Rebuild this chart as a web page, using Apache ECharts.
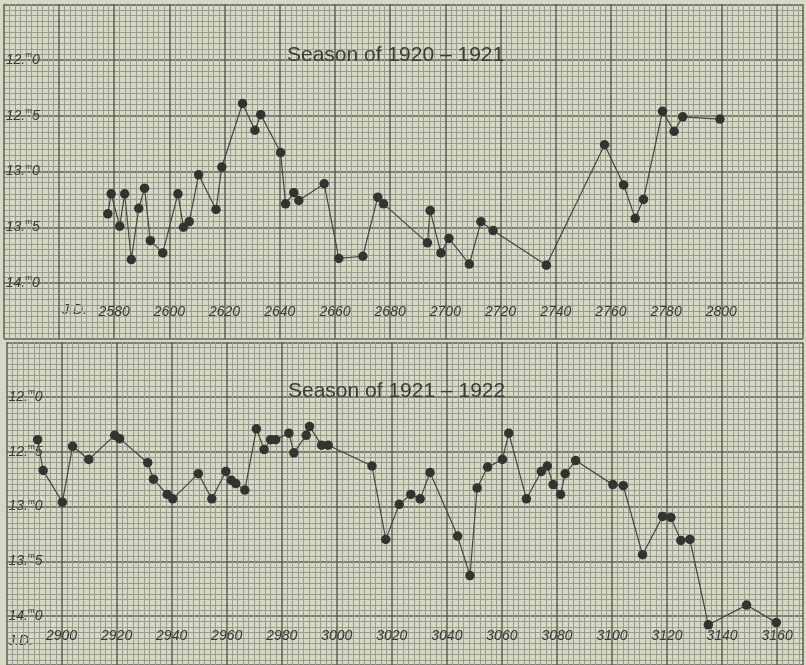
<!DOCTYPE html>
<html>
<head>
<meta charset="utf-8">
<script src="https://cdn.jsdelivr.net/npm/echarts@6/dist/echarts.min.js"></script>
<style>
  html, body { margin: 0; padding: 0; background: #d6dac5; }
  #chart { width: 806px; height: 665px; }
</style>
</head>
<body>
<div id="chart"></div>
<script>
// season 1920-1921 (J.D. 2422xxx, magnitudes)
const jd1 = [2577.7, 2578.9, 2582.0, 2583.8, 2586.2, 2588.9, 2591.0, 2593.1, 2597.6, 2603.1,
  2605.1, 2607.2, 2610.6, 2616.9, 2619.0, 2626.5, 2631.0, 2633.1, 2640.3, 2642.1,
  2645.1, 2646.9, 2656.1, 2661.4, 2670.1, 2675.5, 2677.6, 2693.5, 2694.5, 2698.4,
  2701.3, 2708.7, 2712.9, 2717.3, 2736.6, 2757.7, 2764.6, 2768.8, 2771.8, 2778.7,
  2782.9, 2786.0, 2799.5]
const mag1 = [13.38, 13.20, 13.49, 13.20, 13.79, 13.33, 13.15, 13.62, 13.73, 13.20,
  13.50, 13.45, 13.03, 13.34, 12.96, 12.39, 12.63, 12.49, 12.83, 13.29,
  13.19, 13.26, 13.11, 13.78, 13.76, 13.23, 13.29, 13.64, 13.35, 13.73,
  13.60, 13.83, 13.45, 13.53, 13.84, 12.76, 13.12, 13.42, 13.25, 12.46,
  12.64, 12.51, 12.53]
// season 1921-1922
const jd2 = [2891.3, 2893.3, 2900.3, 2904.0, 2909.9, 2919.3, 2921.1, 2931.3, 2933.4, 2938.4,
  2940.4, 2949.7, 2954.6, 2959.7, 2961.7, 2963.3, 2966.6, 2970.8, 2973.6, 2976.0,
  2977.8, 2982.6, 2984.4, 2988.9, 2990.1, 2994.5, 2996.9, 3012.8, 3017.8, 3022.7,
  3026.9, 3030.3, 3033.9, 3043.9, 3048.4, 3051.0, 3054.8, 3060.2, 3062.5, 3068.9,
  3074.3, 3076.5, 3078.6, 3081.3, 3083.0, 3086.8, 3100.3, 3104.1, 3111.1, 3118.4,
  3121.4, 3125.0, 3128.3, 3135.0, 3148.9, 3159.7]
const mag2 = [12.39, 12.67, 12.96, 12.45, 12.57, 12.35, 12.38, 12.60, 12.75, 12.89,
  12.93, 12.70, 12.93, 12.68, 12.76, 12.79, 12.85, 12.29, 12.48, 12.39,
  12.39, 12.33, 12.51, 12.35, 12.27, 12.44, 12.44, 12.63, 13.30, 12.98,
  12.89, 12.93, 12.69, 13.27, 13.63, 12.83, 12.64, 12.57, 12.33, 12.93,
  12.68, 12.63, 12.80, 12.89, 12.70, 12.58, 12.80, 12.81, 13.44, 13.09,
  13.10, 13.31, 13.30, 14.08, 13.90, 14.06]

const xTicks1 = [2580, 2600, 2620, 2640, 2660, 2680, 2700, 2720, 2740, 2760, 2780, 2800]
const xTicks2 = [2900, 2920, 2940, 2960, 2980, 3000, 3020, 3040, 3060, 3080, 3100, 3120, 3140, 3160]
const yTicks = [12.0, 12.5, 13.0, 13.5, 14.0]
const titles = ['Season of 1920 \u2013 1921', 'Season of 1921 \u2013 1922']

const hand = "'Liberation Sans', 'DejaVu Sans', sans-serif"
const ink = '#393936'
const major = '#5f615a'
const minor = '#989b8d'

let myChart = echarts.init(document.getElementById('chart'))

let xAx = (min, max, ticks, idx) => ({
    type: 'value', gridIndex: idx, min: min, max: max, interval: 20,
    axisLine: { show: false },
    axisTick: { show: false },
    minorTick: { show: false, splitNumber: 10 },
    minorSplitLine: { show: true, lineStyle: { color: minor, width: 1 } },
    splitLine: { show: true, lineStyle: { color: major, width: 1.5 } },
    axisLabel: {
        inside: true, margin: idx == 0 ? 20 : 22,
        fontFamily: hand, fontSize: 14, fontStyle: 'italic', color: ink,
        formatter: v => ticks.indexOf(v) >= 0 ? String(v) : ''
    }
})
let yAx = (idx, max) => ({
    type: 'value', gridIndex: idx, min: 11.5, max: max, interval: 0.5, inverse: true,
    axisLine: { show: false },
    axisTick: { show: false },
    minorTick: { show: false, splitNumber: 10 },
    minorSplitLine: { show: true, lineStyle: { color: minor, width: 1 } },
    splitLine: { show: true, lineStyle: { color: major, width: 1.5 } },
    axisLabel: {
        inside: true, margin: 2,
        formatter: v => {
            if (yTicks.indexOf(v) < 0) return ''
            let s = v.toFixed(1).split('.')
            return '{n|' + s[0] + '.}{m|m}{n|' + s[1] + '}'
        },
        rich: {
            n: { fontFamily: hand, fontSize: 14, fontStyle: 'italic', color: ink },
            m: { fontFamily: hand, fontSize: 8, color: ink, padding: [0, 0, 10, 0] }
        }
    }
})
let ser = (jd, mag, idx) => ({
    type: 'line', xAxisIndex: idx, yAxisIndex: idx,
    data: jd.map((d, i) => [d, mag[i]]),
    symbol: 'circle', symbolSize: 9.5, showSymbol: true,
    itemStyle: { color: '#333331' },
    lineStyle: { color: '#454541', width: 1.2 },
    z: 5
})

let option = {
    backgroundColor: '#d6dac5',
    animation: false,
    title: [
        { text: titles[0], left: 282, top: 40,
          textStyle: { fontFamily: hand, fontSize: 21, fontWeight: 'normal', color: '#3c3c38' } },
        { text: titles[1], left: 283, top: 376,
          textStyle: { fontFamily: hand, fontSize: 21, fontWeight: 'normal', color: '#3c3c38' } }
    ],
    grid: [
        { left: 3.8, top: 4.25, width: 802.2, height: 334.5 },
        { left: 6.5, top: 342.25, width: 799.5, height: 322.75 }
    ],
    xAxis: [xAx(2540, 2829.6, xTicks1, 0), xAx(2880, 3169.4, xTicks2, 1)],
    yAxis: [yAx(0, 14.5), yAx(1, 14.447)],
    graphic: [
        { type: 'text', left: 62, top: 303, style: { text: 'J.D.', font: 'italic 14px ' + hand, fill: ink } },
        { type: 'text', left: 8, top: 634, style: { text: 'J.D.', font: 'italic 14px ' + hand, fill: ink } }
    ],
    series: [ser(jd1, mag1, 0), ser(jd2, mag2, 1)]
}
option && myChart.setOption(option)
window.addEventListener('resize', function () {
    myChart.resize()
})
</script>
</body>
</html>
